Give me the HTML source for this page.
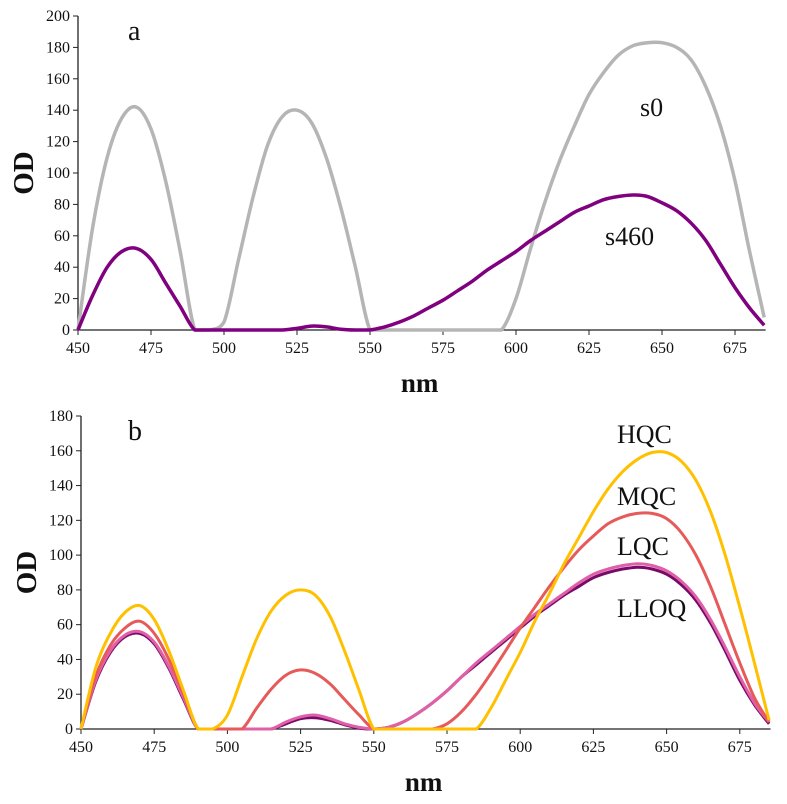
<!DOCTYPE html>
<html><head><meta charset="utf-8"><style>
body{margin:0;background:#fff;}
svg{display:block;font-family:"Liberation Serif",serif;}
</style></head><body>
<svg id="chart" width="787" height="804" viewBox="0 0 787 804" xmlns="http://www.w3.org/2000/svg"></svg>
<script>
const wavelengths = [450,455,460,465,470,475,480,485,490,495,500,505,510,515,520,525,530,535,540,545,550,555,560,565,570,575,580,585,590,595,600,605,610,615,620,625,630,635,640,645,650,655,660,665,670,675,680,685];
const s0Values = [0,65,110,135,142,128,95,50,0,0,5,45,85,118,136,140,132,110,78,40,0,0,0,0,0,0,0,0,0,0,20,52,82,108,130,150,164,175,181,183,183,180,172,155,130,95,50,8];
const s460Values = [0,22,40,50,52,45,30,15,0,0,0,0,0,0,0,1,2.5,2,0.5,0,0,2,5,9,14,19,25,31,38,44,50,57,63,69,75,79,83,85,86,85,81,76,68,57,42,27,14,3];
const hqcValues = [0,35,55,67,71,63,45,22,0,0,8,30,52,68,77,80,77,65,45,22,0,0,0,0,0,0,0,0,12,28,44,62,78,95,110,125,138,148,155,159,159,154,143,125,100,70,38,5];
const mqcValues = [0,30,48,58,62,55,40,20,0,0,0,0,12,23,31,34,32,26,17,8,0,0,0,0,0,3,10,20,32,45,58,70,82,93,103,111,118,122,124,124,121,113,100,82,60,38,18,4];
const lqcValues = [0,28,45,54,56,50,36,18,0,0,0,0,0,0,4,7,8,6,3,1,0,1,4,9,15,22,30,38,45,52,59,66,72,78,84,89,92,94,95,94,91,85,76,63,47,30,15,4];
const lloqValues = [0,27,44,53,55,49,35,17,0,0,0,0,0,0,3,6,6.5,5,2.5,0.5,0,1,4,9,15,22,30,37,44,51,58,65,71,77,82,87,90,92,93,92,89,83,74,61,45,28,14,3];
const xTicks = [450,475,500,525,550,575,600,625,650,675];
const yTicksA = [0,20,40,60,80,100,120,140,160,180,200];
const yTicksB = [0,20,40,60,80,100,120,140,160,180];

const svg = document.getElementById('chart');
const NS = 'http://www.w3.org/2000/svg';
function mk(tag, attrs, parent){const e=document.createElementNS(NS,tag);for(const k in attrs)e.setAttribute(k,attrs[k]);(parent||svg).appendChild(e);return e;}

function smoothPath(P, yBase){
  let d = `M${P[0][0].toFixed(1)},${P[0][1].toFixed(1)}`;
  for(let i=0;i<P.length-1;i++){
    const p0=P[Math.max(0,i-1)], p1=P[i], p2=P[i+1], p3=P[Math.min(P.length-1,i+2)];
    let c1x=p1[0]+(p2[0]-p0[0])/6, c1y=p1[1]+(p2[1]-p0[1])/6;
    let c2x=p2[0]-(p3[0]-p1[0])/6, c2y=p2[1]-(p3[1]-p1[1])/6;
    if(p1[1]>=yBase-0.01 || p2[1]>=yBase-0.01){ /* keep flat/zero segments from dipping */
      if(p1[1]>=yBase-0.01) c1y=Math.min(c1y,yBase); if(p2[1]>=yBase-0.01) c2y=Math.min(c2y,yBase);
      if(p1[1]>=yBase-0.01 && p2[1]>=yBase-0.01){c1y=yBase;c2y=yBase;}
    }
    c1y=Math.min(c1y,yBase); c2y=Math.min(c2y,yBase);
    d += ` C${c1x.toFixed(1)},${c1y.toFixed(1)} ${c2x.toFixed(1)},${c2y.toFixed(1)} ${p2[0].toFixed(1)},${p2[1].toFixed(1)}`;
  }
  return d;
}

function panel(p){
  const g = mk('g',{});
  
  
  const sx = v => p.x0 + (v-450)*p.kx;
  const sy = v => p.y0 - v*p.ky;
  const ax = mk('path',{d:`M${p.x0},${sy(p.ymax)} V${p.y0} H${sx(685.5)}`,stroke:'#222','stroke-width':1.3,fill:'none'},g);
  
  
  p.yTicks.forEach(t=>{
    mk('line',{x1:p.x0-5,x2:p.x0,y1:sy(t),y2:sy(t),stroke:'#222','stroke-width':1},g);
    const tx = mk('text',{x:p.x0-8,y:sy(t)+5,'text-anchor':'end','font-size':16,fill:'#111'},g);
    tx.textContent = t;
    
    
  });
  xTicks.forEach(t=>{
    mk('line',{x1:sx(t),x2:sx(t),y1:p.y0,y2:p.y0+5,stroke:'#222','stroke-width':1},g);
    const tx = mk('text',{x:sx(t),y:p.y0+23,'text-anchor':'middle','font-size':16,fill:'#111'},g);
    tx.textContent = t;
    
    
  });
  p.series.forEach(s=>{
    const P = wavelengths.map((w,i)=>[sx(w), sy(s.v[i])]);
    const l = mk('path',{d:smoothPath(P,p.y0),fill:'none',stroke:s.c,'stroke-width':s.w||3,'stroke-linejoin':'round'},g);
    
    
  });
  const yt = mk('text',{x:0,y:0,transform:`translate(${p.x0-45},${(sy(p.ymax)+p.y0)/2}) rotate(-90)`,'text-anchor':'middle','font-size':29,'font-weight':'bold',fill:'#111'},g);
  yt.textContent='OD';
  
  
  const xt = mk('text',{x:sx(567),y:p.y0+62,'text-anchor':'middle','font-size':27,'font-weight':'bold',fill:'#111'},g);
  xt.textContent='nm';
  
  
  p.labels.forEach(L=>{
    const t = mk('text',{x:L[1],y:L[2],'font-size':L[3]||26,fill:'#111'},g);
    t.textContent=L[0];
    
    
  });
}

panel({name:'panel-a',x0:78,y0:330,kx:73/25,ky:314/200,ymax:200,yTicks:yTicksA,
  series:[{n:'line-s0',v:s0Values,c:'#b5b5b5',w:3.5},{n:'line-s460',v:s460Values,c:'#800080',w:3.5}],
  labels:[['a',128,40,28],['s0',640,116],['s460',605,245]]});
panel({name:'panel-b',x0:81,y0:729,kx:73.2/25,ky:313/180,ymax:180,yTicks:yTicksB,
  series:[{n:'line-lloq',v:lloqValues,c:'#7a0a6a'},{n:'line-lqc',v:lqcValues,c:'#e060a8'},{n:'line-mqc',v:mqcValues,c:'#e65a5a'},{n:'line-hqc',v:hqcValues,c:'#ffc000'}],
  labels:[['b',128,440,28],['HQC',617,443],['MQC',617,505],['LQC',617,555],['LLOQ',617,617]]});
</script>
</body></html>
